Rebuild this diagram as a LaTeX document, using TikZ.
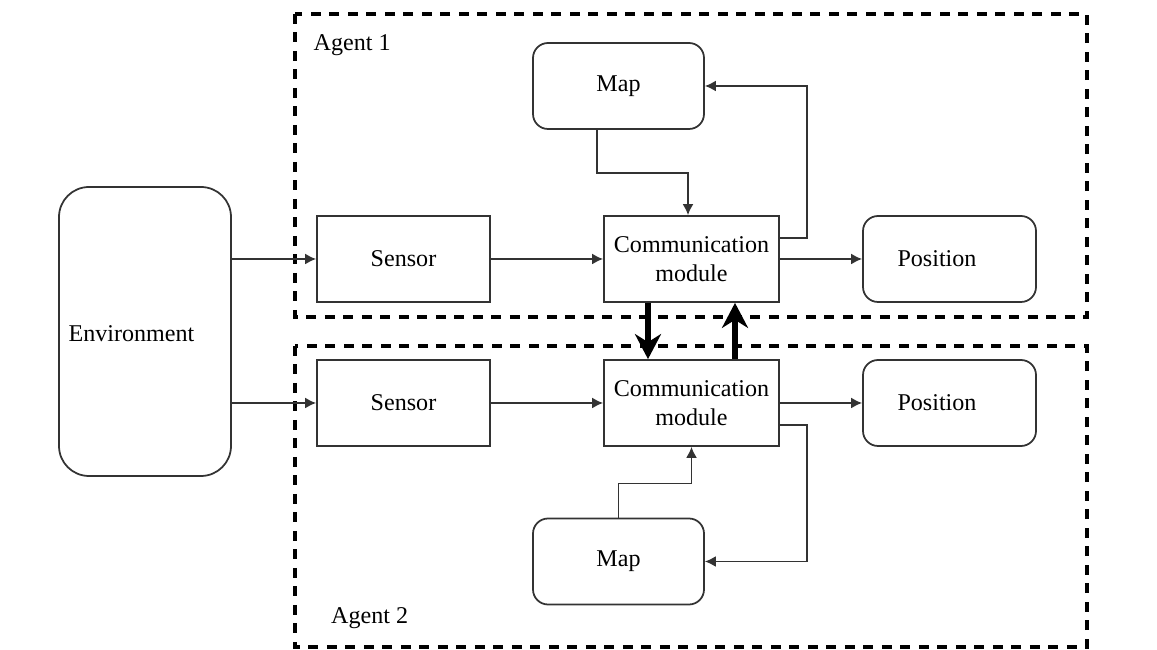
\documentclass[tikz,border=0pt]{standalone}
\usepackage{fontspec}
\setmainfont{Liberation Serif}
\usetikzlibrary{arrows.meta}
\tikzset{
	block/.style={draw=black!80, line width=0.035cm, minimum width=3.46cm, minimum height=1.72cm, align=center, inner sep=1pt},
	roundblock/.style={block, rounded corners=0.3cm},
	agentbox/.style={line width=0.08cm, dash pattern=on 0.2cm off 0.17cm},
	flow/.style={draw=black!80, line width=0.035cm, -{Latex[length=2.2mm,width=2.2mm]}},
	link/.style={line width=0.11cm, -{Stealth[length=5mm,width=5.2mm,inset=1.6mm]}}
}
\begin{document}
\begin{tikzpicture}[font=\fontsize{13.7}{16.5}\selectfont]
			%%%%% START %%%%%
			\useasboundingbox (0, 0) rectangle (23.14, -13);
			
			\draw[agentbox] (5.9, -0.28) rectangle (21.74, -6.34);
			\draw[agentbox] (5.9, -6.92) rectangle (21.74, -12.94);
			\node[anchor=west] (lab1) at (6.15, -0.9) {Agent 1};
			\node[anchor=west] (lab2) at (6.5, -12.36) {Agent 2};
			
			\node[roundblock, minimum width=3.44cm, minimum height=5.78cm, rounded corners=0.6cm] (env) at (2.9, -6.63) {};
			\node (envtext) at (2.63, -6.68) {Environment};
			
			\node[block] (sen1) at (8.07, -5.18) {Sensor};
			\node[block] (sen2) at (8.07, -8.06) {Sensor};
			
			\node[block, minimum width=3.5cm] (com1) at (13.83, -5.18) {Communication\\module};
			\node[block, minimum width=3.5cm] (com2) at (13.83, -8.06) {Communication\\module};
			
			\node[roundblock, minimum width=3.42cm] (map1) at (12.37, -1.72) {Map};
			\node[roundblock, minimum width=3.42cm] (map2) at (12.37, -11.23) {Map};
			
			\node[roundblock] (pos1) at (18.99, -5.18) {\hspace{-0.5cm}Position};
			\node[roundblock] (pos2) at (18.99, -8.06) {\hspace{-0.5cm}Position};
			
			\draw[flow] (env.east |- sen1.west) -- (sen1.west);
			\draw[flow] (env.east |- sen2.west) -- (sen2.west);
			\draw[flow] (sen1) -- (com1);
			\draw[flow] (sen2) -- (com2);
			\draw[flow] (com1) -- (pos1);
			\draw[flow] (com2) -- (pos2);
			
			\draw[flow] ([xshift=-4.3mm]map1.south) -- ++(0, -0.86) -| ([xshift=-0.7mm]com1.north);
			\draw[flow] ([yshift=4.2mm]com1.east) -- ++(0.54, 0) |- (map1.east);
			\draw[flow] ([yshift=-4.4mm]com2.east) -- ++(0.54, 0) |- (map2.east);
			\draw[flow] (map2.north) -- ++(0, 0.68) -| (com2.south);
			
			\draw[link] ([xshift=-8.7mm]com1.south) -- ([xshift=-8.7mm]com2.north);
			\draw[link] ([xshift=8.7mm]com2.north) -- ([xshift=8.7mm]com1.south);
			
			%%%%% END %%%%%
\end{tikzpicture}
\end{document}
